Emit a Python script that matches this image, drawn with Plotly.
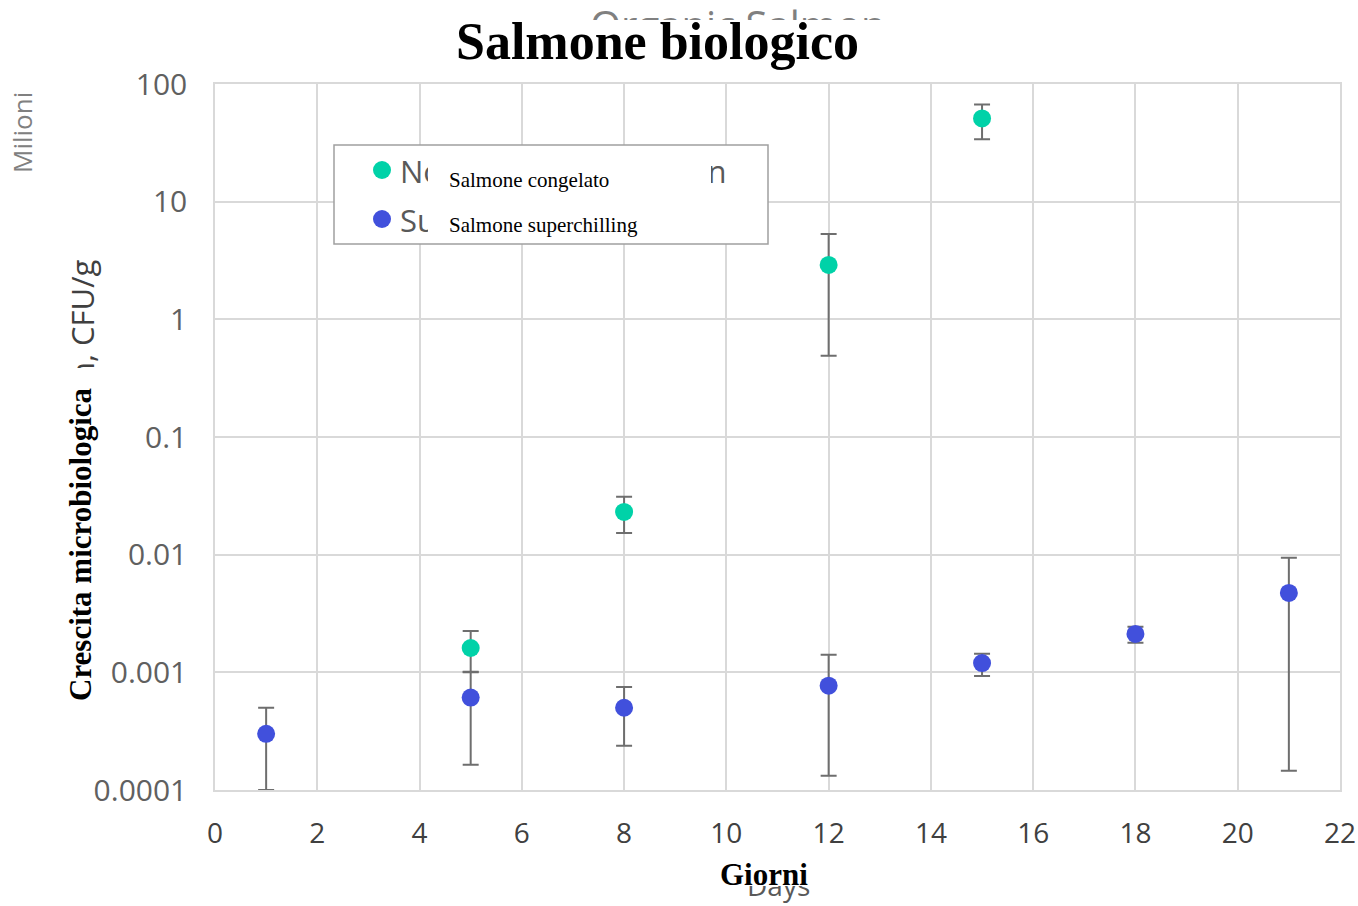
import plotly.graph_objects as go

# ---------------- data ----------------
days_normal = [5, 8, 12, 15]
normal_mean = [0.00161, 0.0231, 2.9, 51.0]
normal_hi = [0.00225, 0.031, 5.3, 67.0]
normal_lo = [0.00100, 0.0153, 0.49, 34.0]

days_super = [1, 5, 8, 12, 15, 18, 21]
super_mean = [0.00030, 0.00061, 0.00050, 0.00077, 0.00120, 0.00212, 0.00473]
super_hi = [0.00050, 0.00101, 0.00075, 0.00141, 0.00144, 0.00244, 0.0094]
super_lo = [0.00010, 0.000164, 0.000238, 0.000132, 0.00093, 0.00178, 0.000146]

y_tickvals = [0.0001, 0.001, 0.01, 0.1, 1, 10, 100]
y_ticktext = ["0.0001", "0.001", "0.01", "0.1", "1", "10", "100"]
x_tickvals = [0, 2, 4, 6, 8, 10, 12, 14, 16, 18, 20, 22]

name_normal_en = "Normal chilled Salmon"
name_super_en = "Superchilled Salmon"
name_normal_it = "Salmone congelato"
name_super_it = "Salmone superchilling"

# ---------------- style ----------------
W, H = 1358, 906
L, R, T, B = 215, 18, 84, 116
GREEN = "#00D2A8"
BLUE = "#4150DC"
ERR = "#6E6E6E"
GRID = "#D9D9D9"
TXT = "#595959"
SANS = "Open Sans, Noto Sans, sans-serif"
SERIF = "Liberation Serif, Times New Roman, serif"

pw, ph = W - L - R, H - T - B


def fx(px):
    return (px - L) / pw


def fy(py):
    return (H - B - py) / ph


fig = go.Figure()


def err(mean, hi, lo):
    return dict(type="data", symmetric=False,
                array=[h - m for h, m in zip(hi, mean)],
                arrayminus=[m - l for m, l in zip(mean, lo)],
                color=ERR, thickness=2, width=8)


fig.add_trace(go.Scatter(x=days_normal, y=normal_mean, mode="markers", name=name_normal_en,
                         marker=dict(color=GREEN, size=18),
                         error_y=err(normal_mean, normal_hi, normal_lo)))
fig.add_trace(go.Scatter(x=days_super, y=super_mean, mode="markers", name=name_super_en,
                         marker=dict(color=BLUE, size=18),
                         error_y=err(super_mean, super_hi, super_lo)))

annotations = []


def text(t, px, py, size, color=TXT, family=SANS, angle=0, xanchor="center", yanchor="middle"):
    annotations.append(dict(text=t, x=fx(px), y=fy(py), xref="paper", yref="paper",
                            showarrow=False, font=dict(size=size, color=color, family=family),
                            textangle=angle, xanchor=xanchor, yanchor=yanchor))


def whitebox(x0, y0, x1, y1):
    annotations.append(dict(text=" ", x=fx((x0 + x1) / 2), y=fy((y0 + y1) / 2),
                            xref="paper", yref="paper", showarrow=False,
                            width=x1 - x0, height=y1 - y0, bgcolor="white",
                            borderpad=0, borderwidth=0, xanchor="center", yanchor="middle",
                            font=dict(size=4)))


# original (English) texts, partially covered
text("Organic Salmon", 737, 25, 40, color="#808080")
text("Microbial growth, CFU/g", 82, 433, 31, color="#404040", angle=-90)
text("Days", 778, 885, 28, color=TXT)
text("Milioni", 22, 133, 26, color="#808080", family="Liberation Sans Narrow, " + SANS, angle=-90)
text(name_normal_en, 398, 171, 31, color=TXT, xanchor="left")
text(name_super_en, 398, 220, 31, color=TXT, xanchor="left")

# white overlays
whitebox(300, 20, 1010, 70)
whitebox(62, 368, 108, 712)
whitebox(700, 860, 830, 886)
whitebox(428, 150, 711, 196)
whitebox(428, 200, 760, 240)

# translated texts
text("<b>Salmone biologico</b>", 657, 42, 52, color="black", family=SERIF)
text("<b>Crescita microbiologica</b>", 80, 544, 31, color="black", family=SERIF, angle=-90)
text("<b>Giorni</b>", 764, 874, 31, color="black", family=SERIF)
text(name_normal_it, 447, 180, 21, color="black", family=SERIF, xanchor="left")
text(name_super_it, 447, 225, 21, color="black", family=SERIF, xanchor="left")

shapes = [
    dict(type="rect", xref="paper", yref="paper", x0=fx(334), x1=fx(768), y0=fy(145), y1=fy(244),
         line=dict(color="#A0A0A0", width=1.5), fillcolor="white", layer="above"),
    dict(type="circle", xref="paper", yref="paper", x0=fx(373), x1=fx(391), y0=fy(161), y1=fy(179),
         line=dict(width=0), fillcolor=GREEN, layer="above"),
    dict(type="circle", xref="paper", yref="paper", x0=fx(373), x1=fx(391), y0=fy(210), y1=fy(228),
         line=dict(width=0), fillcolor=BLUE, layer="above"),
]

fig.update_layout(
    width=W, height=H, margin=dict(l=L, r=R, t=T, b=B, pad=0, autoexpand=False),
    paper_bgcolor="white", plot_bgcolor="white", showlegend=False,
    annotations=annotations, shapes=shapes,
    xaxis=dict(range=[0, 22], tickvals=x_tickvals, showgrid=True, gridcolor=GRID, gridwidth=1.5,
               showline=True, linecolor=GRID, linewidth=1.5, mirror=True, zeroline=False,
               ticks="", ticklabelstandoff=18, automargin=False,
               tickfont=dict(family=SANS, size=28, color="#404040")),
    yaxis=dict(type="log", range=[-4, 2], tickvals=y_tickvals, ticktext=y_ticktext,
               showgrid=True, gridcolor=GRID, gridwidth=1.5,
               showline=True, linecolor=GRID, linewidth=1.5, mirror=True, zeroline=False,
               ticks="", ticklabelstandoff=20, automargin=False,
               tickfont=dict(family=SANS, size=30, color="#606060")),
)

fig.write_html("out.html")
